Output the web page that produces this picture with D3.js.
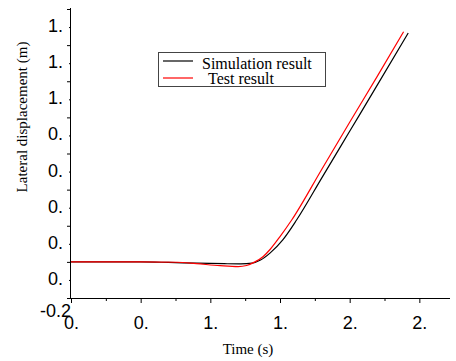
<!DOCTYPE html>
<html>
<head>
<meta charset="utf-8">
<script src="https://cdn.jsdelivr.net/npm/d3@7"></script>
<style>
  body { margin: 0; background: #fff; }
  svg { display: block; }
</style>
</head>
<body>
<div id="chart"></div>
<script>
// Data
const simTime = [0, 0.3, 0.5, 0.7, 0.9, 1.1, 1.22, 1.3, 1.36, 1.43, 1.52, 1.62, 1.8, 2.0, 2.2, 2.42];
const simValue = [0, 0, 0, -0.003, -0.007, -0.01, -0.011, -0.007, 0.01, 0.05, 0.122, 0.233, 0.465, 0.723, 0.981, 1.267];
const testTime = [0, 0.3, 0.5, 0.76, 0.9, 1.07, 1.2, 1.26, 1.32, 1.38, 1.43, 1.5, 1.585, 1.8, 2.0, 2.2, 2.387];
const testValue = [0, 0, 0, -0.002, -0.01, -0.021, -0.026, -0.02, 0, 0.03, 0.07, 0.14, 0.233, 0.513, 0.773, 1.03, 1.274];

// Tick values and the (truncated) labels shown in the picture
const xTicks = [0, 0.5, 1.0, 1.5, 2.0, 2.5];
const xTickLabels = ["0.", "0.", "1.", "1.", "2.", "2."];
const xMinorTicks = [0.25, 0.75, 1.25, 1.75, 2.25];
const yTicks = [-0.2, 0, 0.2, 0.4, 0.6, 0.8, 1.0, 1.2, 1.4];
const yTickLabels = ["-0.2", "0.", "0.", "0.", "0.", "0.", "1.", "1.", "1."];

const legendNames = ["Simulation result", "Test result"];
const seriesColors = ["#000000", "#ff0000"];

const width = 456, height = 361;
const plot = { left: 71, right: 450, top: 9, bottom: 298 };

const svg = d3.select("#chart").append("svg")
    .attr("width", width)
    .attr("height", height);

const x = d3.scaleLinear().domain([0, 2.72]).range([plot.left, plot.right]);
const y = d3.scaleLinear().domain([-0.2, 1.4]).range([plot.bottom, plot.top]);

// X axis: major ticks with labels, minor ticks without
const xAxis = svg.append("g")
    .attr("transform", `translate(0,${plot.bottom})`)
    .call(d3.axisBottom(x).tickValues(xTicks).tickSize(5)
        .tickFormat((d, i) => xTickLabels[i]));
xAxis.select(".domain").attr("d", `M${plot.left},0.5H${plot.right}`).attr("stroke", "#000");
xAxis.selectAll("text")
    .attr("font-family", "Liberation Sans, Arial, sans-serif")
    .attr("font-size", 18)
    .attr("fill", "#000")
    .attr("y", 18);

svg.append("g")
    .attr("transform", `translate(0,${plot.bottom})`)
    .call(d3.axisBottom(x).tickValues(xMinorTicks).tickSize(3).tickFormat(""))
    .select(".domain").remove();

// Y axis: labels sit below their ticks, as in the picture
const yAxis = svg.append("g")
    .attr("transform", `translate(${plot.left},0)`)
    .call(d3.axisLeft(y).tickValues(yTicks).tickSize(4)
        .tickFormat((d, i) => yTickLabels[i]));
yAxis.select(".domain").attr("d", `M-0.5,${plot.top - 1}V${plot.bottom}`).attr("stroke", "#000");
yAxis.selectAll("text")
    .attr("font-family", "Liberation Sans, Arial, sans-serif")
    .attr("font-size", 18)
    .attr("fill", "#000")
    .attr("x", d => d === -0.2 ? 0 : -8)
    .attr("dy", d => d === -0.2 ? "1.05em" : "1.25em");

// small ticks next to each label
svg.append("g")
    .attr("transform", `translate(${plot.left},0)`)
    .call(d3.axisLeft(y).tickValues(yTicks.slice(1).map(v => v - 0.1)).tickSize(2).tickFormat(""))
    .select(".domain").remove();

// Axis titles
svg.append("text")
    .attr("x", 248)
    .attr("y", 354)
    .attr("text-anchor", "middle")
    .attr("font-family", "Liberation Serif, Times New Roman, serif")
    .attr("font-size", 15)
    .text("Time (s)");

svg.append("text")
    .attr("transform", "translate(27,117) rotate(-90)")
    .attr("text-anchor", "middle")
    .attr("font-family", "Liberation Serif, Times New Roman, serif")
    .attr("font-size", 15)
    .text("Lateral displacement (m)");

// Curves
const line = d3.line()
    .x(d => x(d[0]))
    .y(d => y(d[1]))
    .curve(d3.curveMonotoneX);

const series = [
    d3.zip(simTime, simValue),
    d3.zip(testTime, testValue)
];

svg.append("g")
    .selectAll("path")
    .data(series)
    .enter().append("path")
    .attr("d", line)
    .attr("fill", "none")
    .attr("stroke", (d, i) => seriesColors[i])
    .attr("stroke-width", 1.2);

// Legend
const legend = svg.append("g");
legend.append("rect")
    .attr("x", 158.5).attr("y", 52.5)
    .attr("width", 167).attr("height", 34)
    .attr("fill", "#fff")
    .attr("stroke", "#444");

const legendItems = legend.selectAll("g.item")
    .data(legendNames)
    .enter().append("g")
    .attr("class", "item");

legendItems.append("line")
    .attr("x1", 163).attr("x2", 193)
    .attr("y1", (d, i) => 61 + i * 17)
    .attr("y2", (d, i) => 61 + i * 17)
    .attr("stroke", (d, i) => seriesColors[i])
    .attr("stroke-width", 1.2);

legendItems.append("text")
    .attr("x", (d, i) => 202 + i * 6)
    .attr("y", (d, i) => 69 + i * 15)
    .attr("font-family", "Liberation Serif, Times New Roman, serif")
    .attr("font-size", 16)
    .text(d => d);
</script>
</body>
</html>
